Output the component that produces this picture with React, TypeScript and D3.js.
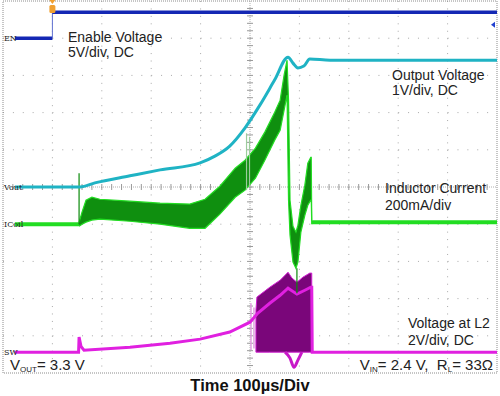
import * as d3 from 'd3';

// time base: 100 µs/div, trigger one division from the left edge
const EN_T = [-76, 0, 0, 900];
const EN_V = [0, 0, 3.5, 3.5];
const EN_TRIG_LEVEL = 1.8;

const VOUT_T = [-76, 56, 86, 157, 218, 299, 329, 359, 390, 420, 450, 477, 487, 497, 509, 521, 562, 900];
const VOUT_V = [0, 0, 0.11, 0.3, 0.46, 0.65, 0.83, 1.1, 1.59, 2.2, 2.88, 3.49, 3.33, 3.2, 3.25, 3.44, 3.41, 3.41];

// inductor current (mA): flat before/after, switching envelope in between
const ICOIL_PRE_T = [-76, 54];
const ICOIL_PRE_I = [0, 0];
const ICOIL_BAND_T = [54, 60, 68, 80, 96, 157, 218, 278, 309, 339, 370, 390, 411, 430, 450, 461, 469, 475, 478, 481, 487, 493, 497, 503, 511, 517, 523, 524, 525];
const ICOIL_BAND_HI = [11, 65, 129, 145, 134, 124, 113, 108, 134, 204, 301, 344, 409, 495, 602, 667, 801, 882, 667, 129, -11, -43, -5, 102, 210, 328, 360, 360, 22];
const ICOIL_BAND_LO = [-11, 0, 11, 22, 27, 16, 0, -22, -22, 54, 145, 183, 247, 344, 452, 505, 613, 694, 129, -59, -204, -237, -204, -43, 48, 102, 129, 129, 0];
const ICOIL_POST_T = [525, 900];
const ICOIL_POST_I = [11, 11];
const ICOIL_SPIKE_T = [54, 393, 399, 495];
const ICOIL_SPIKE_FROM = [0, 489, 470, -237];
const ICOIL_SPIKE_TO = [274, 183, 200, -371];

// switch node voltage (V)
const SW_T = [-76, 53, 54, 58, 64, 157, 238, 299, 359, 400, 416, 440, 461, 477, 495, 511, 523, 525, 526, 900];
const SW_V = [0, 0, 0.81, 0.3, 0.11, 0.27, 0.48, 0.7, 1.08, 1.61, 2.1, 2.63, 3.06, 3.44, 3.12, 3.33, 3.49, 3.49, 0, 0];
const SW_BAND_T = [412, 414, 440, 461, 477, 485, 495, 507, 521, 525];
const SW_BAND_HI = [2.26, 2.96, 3.49, 3.87, 4.3, 3.98, 3.76, 4.03, 4.25, 4.25];
const SW_BAND_LO = [0, 0, 0, 0, 0, 0, 0, 0, 0, 0];
const SW_DIP_T = [471, 481, 489, 497, 505];
const SW_DIP_V = [0, -0.32, -0.81, -0.43, 0];
const SW_GLITCH_T = [402, 408];
const SW_GLITCH_FROM = [0.11, 0.2];
const SW_GLITCH_TO = [2.63, 2.4];

const LEFT = 3, RIGHT = 497, TOP = 1, BOTTOM = 373;
const FONT = '"Liberation Sans", Arial, sans-serif';

const x = d3.scaleLinear().domain([-100, 900]).range([LEFT, RIGHT]);
const yDiv = d3.scaleLinear().domain([-5, 5]).range([BOTTOM, TOP]);

// each channel: ground marker position (div) and units per division
const channel = (ground: number, perDiv: number) => (v: number) => yDiv(ground + v / perDiv);
const yEN = channel(4.0, 5);
const yVout = channel(0, 1);
const yCoil = channel(-1.0, 200);
const ySW = channel(-4.44, 2);

function linePath(T: number[], V: number[], y: (v: number) => number, curve: d3.CurveFactory = d3.curveLinear) {
  return d3.line<number>().x(i => x(T[i])).y(i => y(V[i])).curve(curve)(d3.range(T.length)) ?? '';
}

function bandPath(T: number[], hi: number[], lo: number[], y: (v: number) => number) {
  return d3.area<number>().x(i => x(T[i])).y0(i => y(lo[i])).y1(i => y(hi[i]))(d3.range(T.length)) ?? '';
}

function edgePath(T: number[], V: number[], y: (v: number) => number) {
  return linePath(T, V, y);
}

function Grid() {
  const colW = (RIGHT - LEFT) / 10;
  const rowH = (BOTTOM - TOP) / 10;
  const items: JSX.Element[] = [];
  for (let k = 1; k < 10; k++) {
    if (k === 5) continue;
    const gx = LEFT + k * colW;
    items.push(<line key={'v' + k} x1={gx} x2={gx} y1={TOP} y2={BOTTOM} stroke="#a8a8a8" strokeDasharray={`1 ${rowH / 5 - 1}`} />);
    const gy = TOP + k * rowH;
    items.push(<line key={'h' + k} x1={LEFT} x2={RIGHT} y1={gy} y2={gy} stroke="#a8a8a8" strokeDasharray={`1 ${colW / 5 - 1}`} />);
  }
  const cx = LEFT + 5 * colW;
  const cy = TOP + 5 * rowH;
  items.push(<line key="cv" x1={cx} x2={cx} y1={TOP} y2={BOTTOM} stroke="#b0b0b0" strokeDasharray="1 1" />);
  items.push(<line key="ch" x1={LEFT} x2={RIGHT} y1={cy} y2={cy} stroke="#b0b0b0" strokeDasharray="1 1" />);
  for (let m = 1; m < 50; m++) {
    const ty = TOP + (m * rowH) / 5;
    items.push(<line key={'tv' + m} x1={cx - 3} x2={cx + 3} y1={ty} y2={ty} stroke="#9a9a9a" />);
    const tx = LEFT + (m * colW) / 5;
    items.push(<line key={'th' + m} x1={tx} x2={tx} y1={cy - 3} y2={cy + 3} stroke="#9a9a9a" />);
  }
  items.push(
    <rect key="border" x={LEFT} y={TOP} width={RIGHT - LEFT} height={BOTTOM - TOP} fill="none" stroke="#8c8c8c" strokeDasharray="1 1" />
  );
  return <g>{items}</g>;
}

export default function App() {
  const green = '#22dd22';
  const magenta = '#e020e0';
  return (
    <svg width={500} height={396} style={{ position: 'absolute', left: 0, top: 0, background: '#fff' }} fontFamily={FONT}>
      <rect width={500} height={396} fill="#fff" />
      <Grid />

      {/* SW / voltage at L2 */}
      <g>
        <path d={bandPath(SW_BAND_T, SW_BAND_HI, SW_BAND_LO, ySW)} fill="#7a067a" stroke="#d21ed2" strokeWidth={1} />
        {SW_GLITCH_T.map((t, i) => (
          <line key={i} x1={x(t)} x2={x(t)} y1={ySW(SW_GLITCH_FROM[i])} y2={ySW(SW_GLITCH_TO[i])} stroke="#e0a0e0" strokeWidth={1.5} />
        ))}
        <path d={linePath(SW_T, SW_V, ySW)} fill="none" stroke={magenta} strokeWidth={3} />
        <path d={linePath(SW_DIP_T, SW_DIP_V, ySW, d3.curveMonotoneX)} fill="none" stroke="#c818c8" strokeWidth={3} />
      </g>

      {/* inductor current */}
      <g>
        <path d={linePath(ICOIL_PRE_T, ICOIL_PRE_I, yCoil)} fill="none" stroke={green} strokeWidth={4} />
        <path d={bandPath(ICOIL_BAND_T, ICOIL_BAND_HI, ICOIL_BAND_LO, yCoil)} fill="#0f8f0f" stroke="none" />
        <path d={edgePath(ICOIL_BAND_T, ICOIL_BAND_HI, yCoil)} fill="none" stroke={green} strokeWidth={1.2} />
        <path d={edgePath(ICOIL_BAND_T, ICOIL_BAND_LO, yCoil)} fill="none" stroke={green} strokeWidth={1.2} />
        {ICOIL_SPIKE_T.map((t, i) => (
          <line key={i} x1={x(t)} x2={x(t)} y1={yCoil(ICOIL_SPIKE_FROM[i])} y2={yCoil(ICOIL_SPIKE_TO[i])} stroke={i === 1 || i === 2 ? '#9ccc9c' : '#0a8a0a'} strokeWidth={1.2} />
        ))}
        <path d={linePath(ICOIL_POST_T, ICOIL_POST_I, yCoil)} fill="none" stroke={green} strokeWidth={4} />
      </g>

      {/* output voltage */}
      <path d={linePath(VOUT_T, VOUT_V, yVout, d3.curveMonotoneX)} fill="none" stroke="#1fb3c4" strokeWidth={3} />

      {/* enable */}
      <path d={linePath(EN_T.slice(0, 2), EN_V.slice(0, 2), yEN)} fill="none" stroke="#1428b4" strokeWidth={3.5} />
      <line x1={x(0)} x2={x(0)} y1={yEN(0)} y2={yEN(3.5)} stroke="#6070d0" strokeWidth={1} />
      <path d={linePath(EN_T.slice(2), EN_V.slice(2), yEN)} fill="none" stroke="#1428b4" strokeWidth={3.5} />

      {/* trigger markers */}
      <path d={`M${x(0) - 3},0 L${x(0) + 3},0 L${x(0)},4 Z`} fill="#f0a030" />
      <rect x={x(0) - 3} y={5} width={6} height={8} rx={1.5} fill="#f0a030" />
      <path d={`M${RIGHT - 6},${yEN(EN_TRIG_LEVEL)} L${RIGHT - 2},${yEN(EN_TRIG_LEVEL) - 3} L${RIGHT - 2},${yEN(EN_TRIG_LEVEL) + 3} Z`} fill="#2040d0" />

      {/* channel ground labels */}
      <g fontSize={8} fill="#222" fontFamily='"DejaVu Serif", serif'>
        <text x={4} y={yEN(0) + 3}>EN</text>
        <text x={4} y={yVout(0) + 3}>Vout</text>
        <text x={4} y={yCoil(0) + 3}>ICoil</text>
        <text x={4} y={ySW(0) + 3}>SW</text>
      </g>

      {/* annotations */}
      <g fontSize={14} fill="#222">
        <text x={68} y={42}>Enable Voltage</text>
        <text x={68} y={57}>5V/div, DC</text>
        <text x={392} y={80}>Output Voltage</text>
        <text x={392} y={95}>1V/div, DC</text>
        <text x={385} y={193}>Inductor Current</text>
        <text x={385} y={210}>200mA/div</text>
        <text x={408} y={328}>Voltage at L2</text>
        <text x={408} y={345}>2V/div, DC</text>
      </g>
      <text x={10} y={370} fontSize={15} fill="#222">
        V<tspan fontSize={8} dy={2}>OUT</tspan>
        <tspan dy={-2}>= 3.3 V</tspan>
      </text>
      <text x={493} y={370} fontSize={15} fill="#222" textAnchor="end" style={{ whiteSpace: 'pre' }}>
        V<tspan fontSize={8} dy={2}>IN</tspan>
        <tspan dy={-2}>{'= 2.4 V,  R'}</tspan>
        <tspan fontSize={8} dy={2}>L</tspan>
        <tspan dy={-2}>= 33Ω</tspan>
      </text>
      <text x={250} y={391} fontSize={16.5} fontWeight="bold" textAnchor="middle" fill="#111">
        Time 100µs/Div
      </text>
    </svg>
  );
}
